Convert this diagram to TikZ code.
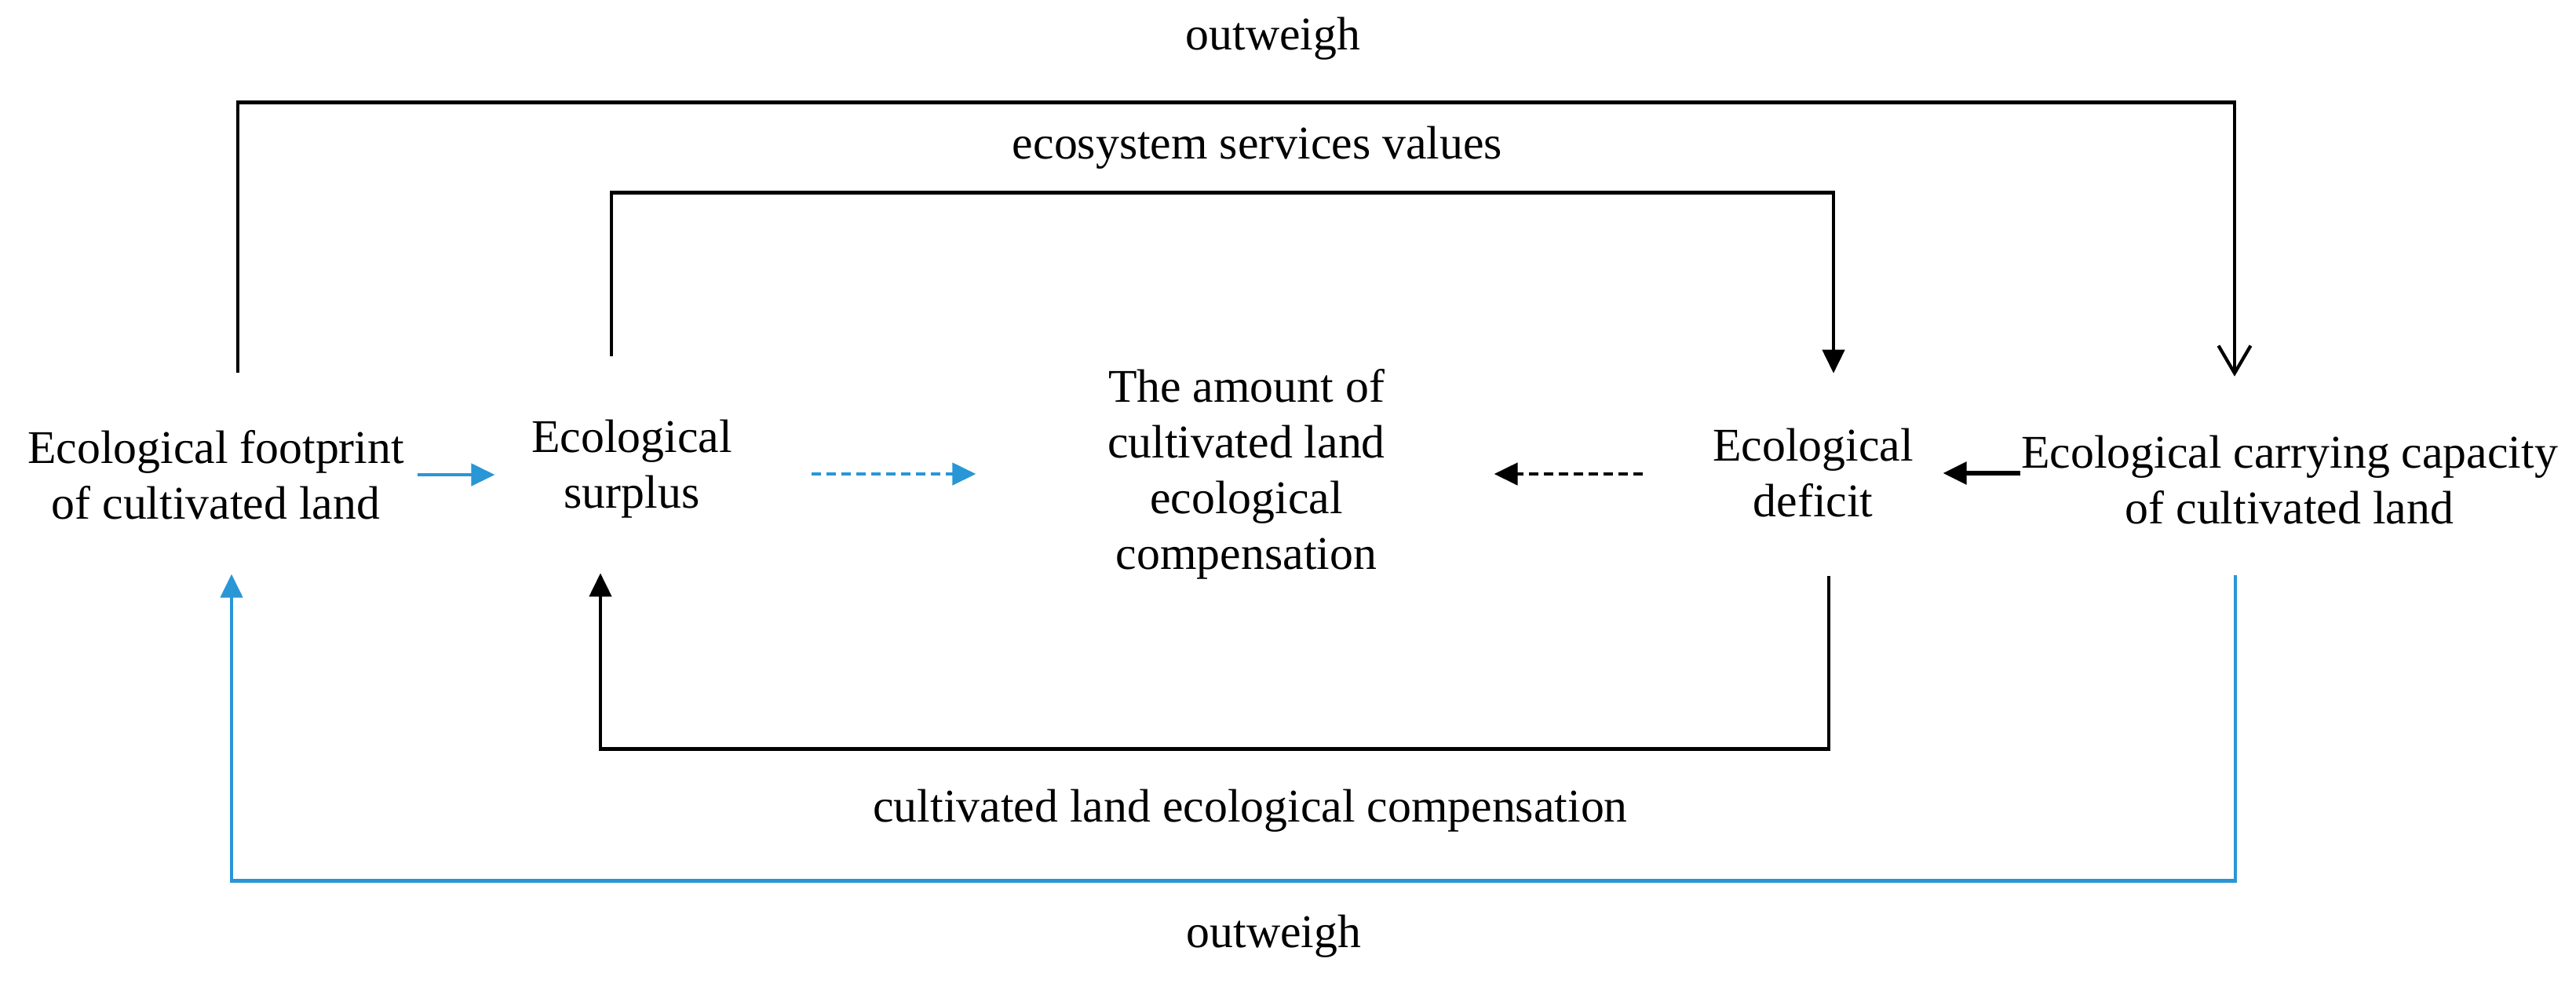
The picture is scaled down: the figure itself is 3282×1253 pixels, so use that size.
\documentclass[tikz,border=0pt]{standalone}
\usepackage{fontspec}
\setmainfont{Liberation Serif}
\usetikzlibrary{arrows.meta}
\definecolor{cblue}{RGB}{41,150,214}
\begin{document}
\begin{tikzpicture}[x=0.01cm,y=-0.01cm,
  txt/.style={inner sep=0pt, align=center, font=\fontsize{17}{20.2}\selectfont},
  lbl/.style={inner sep=0pt, anchor=base, font=\fontsize{17}{20.2}\selectfont},
  ln/.style={line width=1.3pt},
  tip/.style={-{Triangle[length=0.3cm,width=0.28cm]}},
  opentip/.style={-{Straight Barb[length=0.35cm,width=0.41cm,line width=1.2pt]}},
  dashline/.style={line width=1.3pt, dash pattern=on 0.12cm off 0.07cm}
]
\useasboundingbox (0,0) rectangle (3282,1253);

% nodes
\node[txt] (fp) at (275,605) {Ecological footprint\\of cultivated land};
\node[txt] (sp) at (805,598) {Ecological\\surplus};
\node[txt] (cn) at (1588,604) {The amount of\\cultivated land\\ecological\\compensation};
\node[txt] (df) at (2310,603) {Ecological\\deficit};
\node[txt] (cc) at (2917,612) {Ecological carrying capacity\\of cultivated land};

% labels
\node[lbl] (l1) at (1622,63) {outweigh};
\node[lbl] (l2) at (1602,202) {ecosystem services values};
\node[lbl] (l3) at (1593,1047) {cultivated land ecological compensation};
\node[lbl] (l4) at (1623,1207) {outweigh};

% outer top: footprint -> carrying capacity
\draw[ln,opentip] ([xshift=0.28cm,yshift=0.72cm]fp.north) -- ++(0,-345)
  -| ([xshift=-0.70cm,yshift=0.75cm]cc.north);

% inner top: surplus -> deficit
\draw[ln,tip] ([xshift=-0.26cm,yshift=0.81cm]sp.north) -- ++(0,-208)
  -| ([xshift=0.26cm,yshift=0.70cm]df.north);

% inner bottom: deficit -> surplus
\draw[ln,tip] ([xshift=0.20cm,yshift=-0.74cm]df.south) -- ++(0,220)
  -| ([xshift=-0.40cm,yshift=-0.69cm]sp.south);

% outer bottom (blue): carrying capacity -> footprint
\draw[ln,cblue,tip] ([xshift=-0.69cm,yshift=-0.64cm]cc.south) -- ++(0,389)
  -| ([xshift=0.20cm,yshift=-0.69cm]fp.south);

% horizontal arrows
\draw[line width=1.3pt,cblue,tip,shorten <=0.16cm,shorten >=0.46cm]
  (fp.east) -- (fp.east -| sp.west);
\draw[dashline,cblue,tip,shorten <=1.00cm,shorten >=1.67cm]
  (sp.east |- cn.west) -- (cn.west);
\draw[dashline,black,tip,shorten <=0.88cm,shorten >=1.38cm]
  (df.west |- cn.east) -- (cn.east);
\draw[line width=1.6pt,tip,shorten >=0.37cm]
  (cc.west |- df.east) -- (df.east);
\end{tikzpicture}
\end{document}
